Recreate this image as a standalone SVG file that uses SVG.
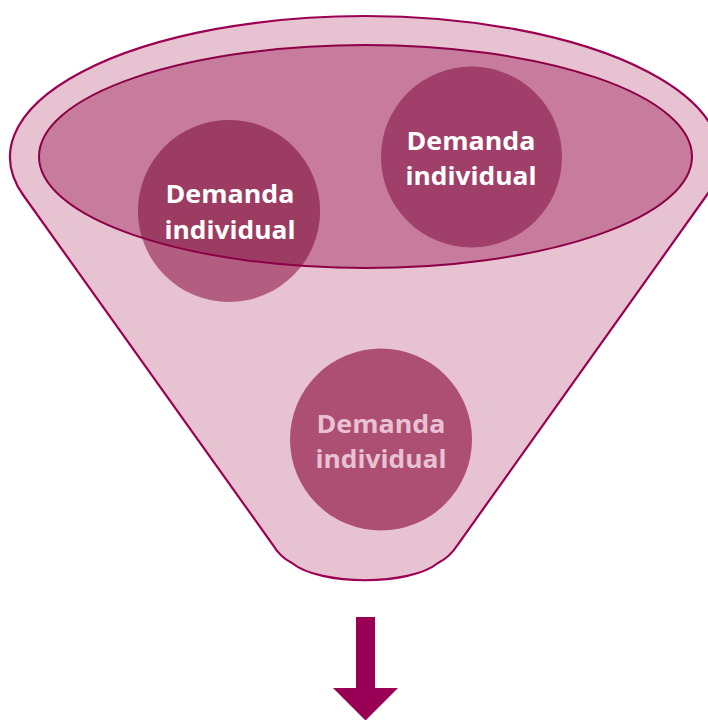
<svg xmlns="http://www.w3.org/2000/svg" width="708" height="720" viewBox="0 0 708 720">
  <defs>
    <clipPath id="innerClip">
      <ellipse cx="365.5" cy="156.5" rx="326.5" ry="111.5"/>
    </clipPath>
  </defs>
  <style>
    .lbl { font-family: "Open Sans", "Liberation Sans", sans-serif; font-weight: 700; font-size: 25px; text-anchor: middle; }
    .white { fill: #ffffff; }
    .pale { fill: #e8c2d3; }
  </style>
  <rect x="0" y="0" width="708" height="720" fill="#ffffff"/>
  <g id="funnel">
    <path d="M 23.5 195.5 L 273 545 Q 280 557 292 563 C 320 586 410 586 438 563 Q 450 557 457.5 545 L 706.5 195.5 A 355 141 0 1 0 23.5 195.5 Z" fill="#e7c3d1" stroke="#9b0052" stroke-width="2.2"/>
  </g>
  <g id="pool">
    <ellipse cx="365.5" cy="156.5" rx="326.5" ry="111.5" fill="#c77b9d"/>
  </g>
  <g id="node-left">
    <circle cx="229" cy="211" r="91" fill="#b35d81"/>
    <circle cx="229" cy="211" r="91" fill="#9c3c62" clip-path="url(#innerClip)"/>
  </g>
  <g id="pool-outline">
    <ellipse cx="365.5" cy="156.5" rx="326.5" ry="111.5" fill="none" stroke="#8c0047" stroke-width="2"/>
  </g>
  <g id="node-left-label">
    <text class="lbl white" x="230" y="203" textLength="129" lengthAdjust="spacingAndGlyphs">Demanda</text>
    <text class="lbl white" x="230" y="239" textLength="131" lengthAdjust="spacingAndGlyphs">individual</text>
  </g>
  <g id="node-right">
    <circle cx="471.5" cy="157" r="90.5" fill="#a03f69"/>
    <text class="lbl white" x="471" y="150" textLength="129" lengthAdjust="spacingAndGlyphs">Demanda</text>
    <text class="lbl white" x="471" y="185" textLength="131" lengthAdjust="spacingAndGlyphs">individual</text>
  </g>
  <g id="node-bottom">
    <circle cx="381" cy="439.5" r="91" fill="#ad4f72"/>
    <text class="lbl pale" x="381" y="433" textLength="129" lengthAdjust="spacingAndGlyphs">Demanda</text>
    <text class="lbl pale" x="381" y="468" textLength="131" lengthAdjust="spacingAndGlyphs">individual</text>
  </g>
  <g id="connectors">
    <path d="M 356 617 L 375 617 L 375 688 L 398 688 L 365.5 720.5 L 333 688 L 356 688 Z" fill="#990055"/>
  </g>
</svg>
